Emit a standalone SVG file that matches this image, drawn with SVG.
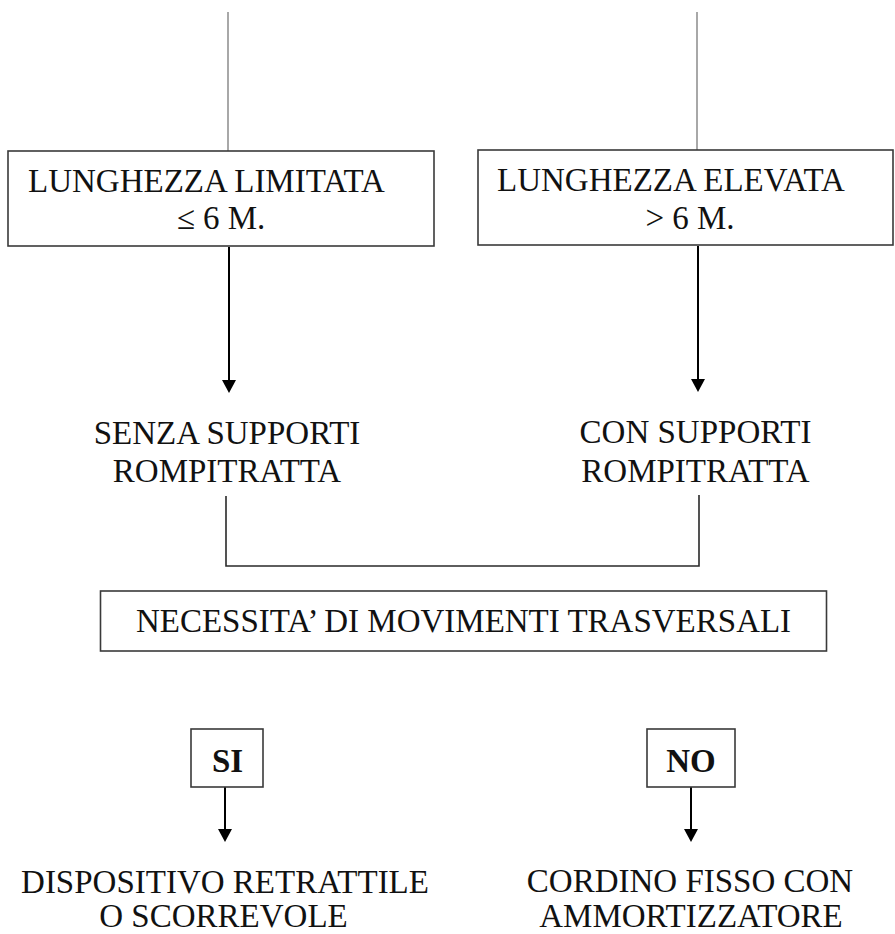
<svg xmlns="http://www.w3.org/2000/svg" width="895" height="934" viewBox="0 0 895 934">
  <style>
    .bg { fill: #ffffff; }
    .box { fill: #ffffff; stroke: #3a3a3a; stroke-width: 1.6; }
    .t { font-family: "Liberation Serif", "Times New Roman", serif; font-size: 33px; fill: #111111; }
    .b { font-weight: bold; }
    .thin { fill: none; stroke: #6e6e6e; stroke-width: 1.2; }
    .link { fill: none; stroke: #2a2a2a; stroke-width: 1.6; }
    .arrow { fill: none; stroke: #000000; stroke-width: 2; marker-end: url(#head); }
  </style>
  <defs>
    <marker id="head" viewBox="0 0 13 14" markerWidth="13" markerHeight="14" refX="9" refY="7" orient="auto" markerUnits="userSpaceOnUse">
      <path d="M0,0 L13,7 L0,14 Z" fill="#000000"/>
    </marker>
  </defs>
  <rect class="bg" x="0" y="0" width="895" height="934"/>

  <g id="connectors">
    <line class="thin" x1="228" y1="12" x2="228" y2="151"/>
    <line class="thin" x1="697" y1="12" x2="697" y2="150"/>
    <line class="arrow" x1="229" y1="247" x2="229" y2="389"/>
    <line class="arrow" x1="698" y1="246" x2="698" y2="388"/>
    <path class="link" d="M226,496 V566 H699 V495"/>
    <line class="arrow" x1="225" y1="787" x2="225" y2="838"/>
    <line class="arrow" x1="691" y1="787" x2="691" y2="838"/>
  </g>

  <g id="node-lunghezza-limitata">
    <rect class="box" x="8" y="151" width="426" height="95"/>
    <text class="t" x="28" y="192">LUNGHEZZA LIMITATA</text>
    <text class="t" x="221" y="229" text-anchor="middle">≤ 6 M.</text>
  </g>

  <g id="node-lunghezza-elevata">
    <rect class="box" x="478" y="150" width="415" height="95"/>
    <text class="t" x="497" y="191">LUNGHEZZA ELEVATA</text>
    <text class="t" x="690" y="229" text-anchor="middle">&gt; 6 M.</text>
  </g>

  <g id="node-senza-supporti">
    <text class="t" x="227" y="444" text-anchor="middle">SENZA SUPPORTI</text>
    <text class="t" x="227" y="482" text-anchor="middle">ROMPITRATTA</text>
  </g>

  <g id="node-con-supporti">
    <text class="t" x="695.5" y="443" text-anchor="middle">CON SUPPORTI</text>
    <text class="t" x="695.5" y="482" text-anchor="middle">ROMPITRATTA</text>
  </g>

  <g id="node-necessita">
    <rect class="box" x="100.5" y="591" width="726" height="60"/>
    <text class="t" x="463.5" y="632" text-anchor="middle">NECESSITA’ DI MOVIMENTI TRASVERSALI</text>
  </g>

  <g id="node-si">
    <rect class="box" x="191" y="729" width="72" height="58"/>
    <text class="t b" x="227.5" y="772" text-anchor="middle">SI</text>
  </g>

  <g id="node-no">
    <rect class="box" x="647" y="729" width="88" height="58"/>
    <text class="t b" x="691" y="772" text-anchor="middle">NO</text>
  </g>

  <g id="node-dispositivo">
    <text class="t" x="225" y="893" text-anchor="middle">DISPOSITIVO RETRATTILE</text>
    <text class="t" x="223.5" y="927" text-anchor="middle">O SCORREVOLE</text>
  </g>

  <g id="node-cordino">
    <text class="t" x="690" y="892" text-anchor="middle">CORDINO FISSO CON</text>
    <text class="t" x="691" y="927" text-anchor="middle">AMMORTIZZATORE</text>
  </g>
</svg>
